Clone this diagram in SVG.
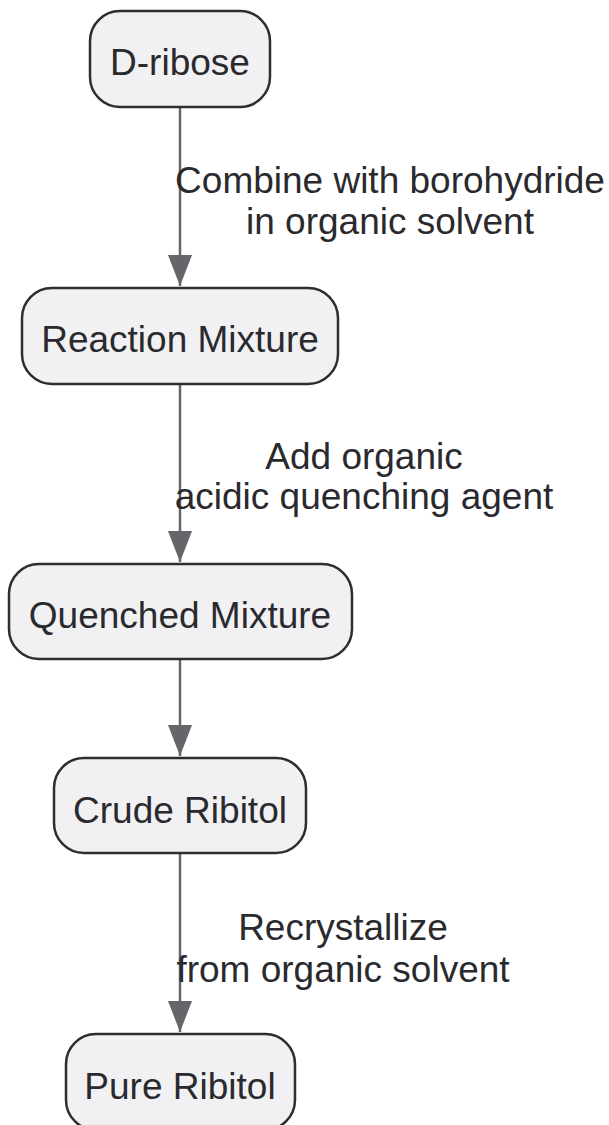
<svg xmlns="http://www.w3.org/2000/svg" width="609" height="1125" viewBox="0 0 609 1125">
<style>
.node rect{fill:#f1f1f3;stroke:#2e2e2e;stroke-width:2.5}
text{font-family:"Liberation Sans",Arial,sans-serif;font-size:37px;fill:#2a2a2e}
.nt{text-anchor:middle}
.edge{stroke:#65666a;stroke-width:2.5;fill:none}
.lbl{text-anchor:middle}
</style>
<defs>
<marker id="ah" viewBox="0 0 31 24" refX="31" refY="12" markerWidth="31" markerHeight="24" markerUnits="userSpaceOnUse" orient="auto">
<path d="M0,0 L31,12 L0,24 Z" fill="#65666a"/>
</marker>
</defs>
<rect width="609" height="1125" fill="#ffffff"/>
<g id="edges">
<line class="edge" x1="180" y1="108" x2="180" y2="286" marker-end="url(#ah)"/>
<line class="edge" x1="180" y1="384" x2="180" y2="562" marker-end="url(#ah)"/>
<line class="edge" x1="180" y1="659" x2="180" y2="756" marker-end="url(#ah)"/>
<line class="edge" x1="180" y1="853" x2="180" y2="1032" marker-end="url(#ah)"/>
</g>
<g id="edge-labels">
<text class="lbl" x="390" y="193">Combine with borohydride</text>
<text class="lbl" x="390" y="234">in organic solvent</text>
<text class="lbl" x="364" y="469">Add organic</text>
<text class="lbl" x="364" y="509">acidic quenching agent</text>
<text class="lbl" x="343" y="940">Recrystallize</text>
<text class="lbl" x="343" y="982">from organic solvent</text>
</g>
<g id="n1" class="node">
<rect x="90" y="11" width="180" height="96" rx="30"/>
<text class="nt" x="180" y="75">D-ribose</text>
</g>
<g id="n2" class="node">
<rect x="22" y="288" width="316" height="96" rx="30"/>
<text class="nt" x="180" y="352">Reaction Mixture</text>
</g>
<g id="n3" class="node">
<rect x="9" y="564" width="343" height="95" rx="30"/>
<text class="nt" x="180" y="628">Quenched Mixture</text>
</g>
<g id="n4" class="node">
<rect x="54" y="758" width="252" height="95" rx="30"/>
<text class="nt" x="180" y="823">Crude Ribitol</text>
</g>
<g id="n5" class="node">
<rect x="66" y="1034" width="229" height="96" rx="30"/>
<text class="nt" x="180" y="1099">Pure Ribitol</text>
</g>
</svg>
